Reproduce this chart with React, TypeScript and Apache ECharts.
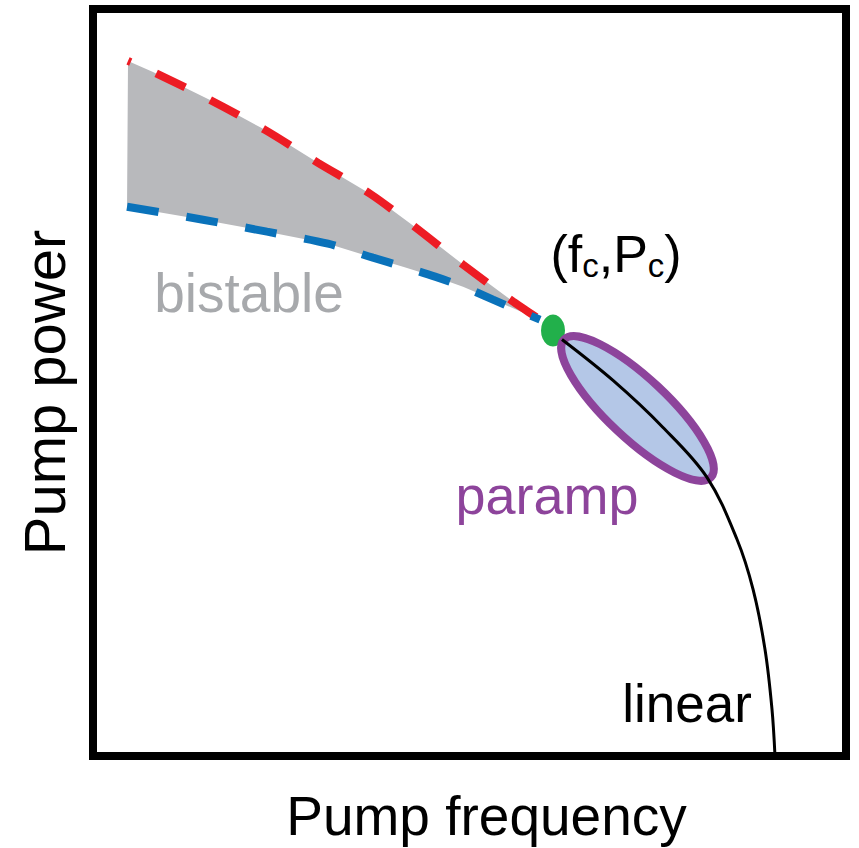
import React, { useEffect, useRef } from 'react';
import * as echarts from 'echarts';

// Upper (red, dashed) boundary of the bistable region
const redX = [4.65, 7.97, 15.54, 22.84, 29.88, 36.79, 42.36, 49.14, 55.78, 59.36, 60.42];
const redY = [93.05, 91.58, 87.83, 83.82, 79.41, 75.27, 71.12, 65.78, 60.83, 58.42, 57.62];

// Lower (blue, dashed) boundary of the bistable region
const blueX = [4.52, 14.61, 23.11, 31.21, 37.18, 41.17, 45.42, 49.14, 53.12, 57.1, 59.36];
const blueY = [73.53, 71.79, 70.19, 68.58, 66.71, 65.51, 64.17, 62.83, 61.1, 59.36, 58.42];

// Black solid curve (paramp -> linear)
const linX = [62.28, 69.06, 75.7, 81.54, 85.52, 87.65, 89.24, 90.17, 90.57];
const linY = [55.75, 50.27, 43.98, 37.3, 29.01, 22.33, 14.3, 6.28, 0];

// Critical point (fc, Pc)
const criticalPoint = [61.09, 56.95];

// Paramp ellipse: two ends of the major axis, semi-minor axis (x units)
const parampEnd1 = [62.55, 55.75];
const parampEnd2 = [82.07, 37.3];
const parampSemiMinor = [4.0];

// Annotation labels
const labelTexts = ['bistable', 'paramp', 'linear', '(f{s|c},P{s|c})'];
const labelX = [20.72, 60.29, 78.88, 69.46];
const labelY = [62.03, 34.89, 7.09, 67.2];

const xAxisTitle = 'Pump frequency';
const yAxisTitle = 'Pump power';

export default function App() {
  const ref = useRef<HTMLDivElement>(null);

  useEffect(() => {
    const chart = echarts.init(ref.current!, null, { renderer: 'svg' });
    const font = "'Liberation Sans', Arial, Helvetica, sans-serif";
    const zip = (xs: number[], ys: number[]) => xs.map((x, i) => [x, ys[i]]);
    const red = zip(redX, redY);
    const blue = zip(blueX, blueY);
    const lin = zip(linX, linY);

    const labelColors = ['#A7A9AC', '#8D449B', '#000000', '#000000'];
    const labelSizes = [55, 54, 53, 52];

    chart.setOption({
      animation: false,
      grid: {
        left: 93,
        top: 9,
        width: 753,
        height: 748,
        show: true,
        borderColor: '#000',
        borderWidth: 8,
        backgroundColor: 'transparent',
      },
      xAxis: {
        type: 'value',
        min: 0,
        max: 100,
        axisLine: { show: false },
        axisTick: { show: false },
        axisLabel: { show: false },
        splitLine: { show: false },
        name: xAxisTitle,
        nameLocation: 'middle',
        nameGap: 32,
        nameTextStyle: { fontSize: 55, color: '#000', fontFamily: font, padding: [0, 0, 0, 34] },
      },
      yAxis: {
        type: 'value',
        min: 0,
        max: 100,
        axisLine: { show: false },
        axisTick: { show: false },
        axisLabel: { show: false },
        splitLine: { show: false },
        name: yAxisTitle,
        nameLocation: 'middle',
        nameGap: 20,
        nameTextStyle: { fontSize: 58, color: '#000', fontFamily: font, padding: [0, 20, 0, 0] },
      },
      series: [
        {
          type: 'custom',
          z: 1,
          silent: true,
          data: [[0, 0]],
          renderItem: (_params: any, api: any) => {
            const pts = [
              ...red.map((p) => api.coord(p)),
              ...blue.slice().reverse().map((p) => api.coord(p)),
            ];
            return { type: 'polygon', shape: { points: pts }, style: { fill: '#B8B9BC' } };
          },
        },
        {
          type: 'line',
          z: 2,
          silent: true,
          data: red,
          showSymbol: false,
          symbol: 'none',
          smooth: 0.3,
          lineStyle: { color: '#ED1C24', width: 8, type: [32, 28], dashOffset: 29, cap: 'butt' },
        },
        {
          type: 'line',
          z: 3,
          silent: true,
          data: blue,
          showSymbol: false,
          symbol: 'none',
          smooth: 0.3,
          lineStyle: { color: '#0A72BA', width: 8, type: [32, 28], cap: 'butt' },
        },
        {
          type: 'scatter',
          z: 4,
          silent: true,
          data: [criticalPoint],
          symbol: 'circle',
          symbolSize: [24, 32],
          itemStyle: { color: '#22B04B', opacity: 1 },
        },
        {
          type: 'custom',
          z: 5,
          silent: true,
          data: [[0, 0]],
          renderItem: (_params: any, api: any) => {
            const p1 = api.coord(parampEnd1);
            const p2 = api.coord(parampEnd2);
            const cx = (p1[0] + p2[0]) / 2;
            const cy = (p1[1] + p2[1]) / 2;
            const dx = p2[0] - p1[0];
            const dy = p2[1] - p1[1];
            const rx = Math.sqrt(dx * dx + dy * dy) / 2;
            const ry = api.size([parampSemiMinor[0], 0])[0];
            const ang = Math.atan2(dy, dx);
            return {
              type: 'ellipse',
              x: cx,
              y: cy,
              rotation: -ang,
              shape: { cx: 0, cy: 0, rx, ry },
              style: { fill: '#B4C7E7', stroke: '#8D449B', lineWidth: 8 },
            };
          },
        },
        {
          type: 'line',
          z: 6,
          silent: true,
          data: lin,
          showSymbol: false,
          symbol: 'none',
          smooth: 0.35,
          lineStyle: { color: '#000', width: 3 },
        },
        {
          type: 'scatter',
          z: 10,
          silent: true,
          symbolSize: 0.1,
          itemStyle: { color: 'rgba(0,0,0,0)', opacity: 1 },
          data: labelTexts.map((t, i) => ({
            value: [labelX[i], labelY[i]],
            label: {
              show: true,
              position: 'inside',
              formatter: t,
              fontSize: labelSizes[i],
              fontFamily: font,
              color: labelColors[i],
              opacity: 1,
              lineHeight: i === 3 ? 56 : labelSizes[i],
              rich: {
                s: {
                  fontSize: 33,
                  lineHeight: 20,
                  verticalAlign: 'bottom',
                  color: '#000',
                  fontFamily: font,
                },
              },
            },
          })),
        },
      ],
    });

    return () => chart.dispose();
  }, []);

  return (
    <div
      ref={ref}
      style={{ position: 'absolute', left: 0, top: 0, width: 859, height: 848 }}
    />
  );
}
